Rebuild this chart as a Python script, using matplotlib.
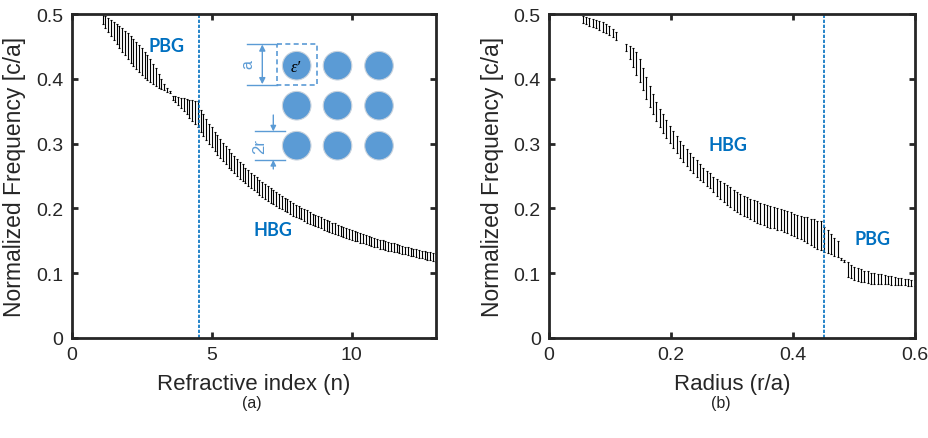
import matplotlib
matplotlib.use("Agg")
import matplotlib.pyplot as plt
from matplotlib.patches import Circle, Rectangle
import numpy as np

plt.rcParams['font.family'] = ['Liberation Sans', 'DejaVu Sans']

# ---- panel (a): band gap edges vs refractive index ----
n_vals = [1.1, 1.2, 1.3, 1.4, 1.5, 1.6, 1.7, 1.8, 1.9, 2.0,
          2.1, 2.2, 2.3, 2.4, 2.5, 2.6, 2.7, 2.8, 2.9, 3.0,
          3.1, 3.2, 3.3, 3.4, 3.5, 3.6, 3.7, 3.8, 3.9, 4.0,
          4.1, 4.2, 4.3, 4.4, 4.5, 4.6, 4.7, 4.8, 4.9, 5.0,
          5.1, 5.2, 5.3, 5.4, 5.5, 5.6, 5.7, 5.8, 5.9, 6.0,
          6.1, 6.2, 6.3, 6.4, 6.5, 6.6, 6.7, 6.8, 6.9, 7.0,
          7.1, 7.2, 7.3, 7.4, 7.5, 7.6, 7.7, 7.8, 7.9, 8.0,
          8.1, 8.2, 8.3, 8.4, 8.5, 8.6, 8.7, 8.8, 8.9, 9.0,
          9.1, 9.2, 9.3, 9.4, 9.5, 9.6, 9.7, 9.8, 9.9, 10.0,
          10.1, 10.2, 10.3, 10.4, 10.5, 10.6, 10.7, 10.8, 10.9, 11.0,
          11.1, 11.2, 11.3, 11.4, 11.5, 11.6, 11.7, 11.8, 11.9, 12.0,
          12.1, 12.2, 12.3, 12.4, 12.5, 12.6, 12.7, 12.8, 12.9, 13.0]
n_upper = [0.500, 0.497, 0.494, 0.491, 0.488, 0.485, 0.481, 0.478, 0.474, 0.470,
           0.466, 0.461, 0.457, 0.452, 0.447, 0.442, 0.436, 0.430, 0.423, 0.416,
           0.408, 0.400, 0.392, 0.386, 0.381, 0.374, 0.373, 0.372, 0.371, 0.370,
           0.369, 0.368, 0.367, 0.366, 0.365, 0.352, 0.345, 0.338, 0.331, 0.325,
           0.318, 0.313, 0.307, 0.301, 0.296, 0.291, 0.286, 0.281, 0.276, 0.272,
           0.268, 0.263, 0.259, 0.255, 0.252, 0.248, 0.244, 0.241, 0.238, 0.234,
           0.231, 0.228, 0.225, 0.222, 0.219, 0.216, 0.214, 0.211, 0.208, 0.206,
           0.204, 0.201, 0.199, 0.197, 0.194, 0.192, 0.190, 0.188, 0.186, 0.184,
           0.182, 0.180, 0.178, 0.177, 0.175, 0.173, 0.171, 0.170, 0.168, 0.167,
           0.165, 0.163, 0.162, 0.160, 0.159, 0.158, 0.156, 0.155, 0.153, 0.152,
           0.151, 0.150, 0.148, 0.147, 0.146, 0.145, 0.144, 0.142, 0.141, 0.140,
           0.139, 0.138, 0.137, 0.136, 0.135, 0.134, 0.133, 0.132, 0.131, 0.130]
n_lower = [0.484, 0.478, 0.472, 0.466, 0.460, 0.454, 0.448, 0.442, 0.436, 0.430,
           0.425, 0.420, 0.415, 0.410, 0.406, 0.402, 0.398, 0.395, 0.392, 0.389,
           0.386, 0.384, 0.382, 0.380, 0.378, 0.368, 0.364, 0.359, 0.355, 0.350,
           0.345, 0.340, 0.335, 0.330, 0.325, 0.318, 0.312, 0.306, 0.300, 0.294,
           0.288, 0.283, 0.278, 0.273, 0.268, 0.263, 0.259, 0.254, 0.250, 0.246,
           0.242, 0.239, 0.235, 0.231, 0.228, 0.225, 0.221, 0.218, 0.215, 0.212,
           0.209, 0.207, 0.204, 0.201, 0.199, 0.196, 0.194, 0.192, 0.189, 0.187,
           0.185, 0.183, 0.180, 0.178, 0.176, 0.175, 0.173, 0.171, 0.169, 0.167,
           0.165, 0.164, 0.162, 0.160, 0.159, 0.157, 0.156, 0.154, 0.153, 0.151,
           0.150, 0.149, 0.147, 0.146, 0.145, 0.143, 0.142, 0.141, 0.140, 0.138,
           0.137, 0.136, 0.135, 0.134, 0.133, 0.132, 0.131, 0.130, 0.129, 0.128,
           0.127, 0.126, 0.125, 0.124, 0.123, 0.122, 0.121, 0.120, 0.119, 0.118]
n_split = 4.55

# ---- panel (b): band gap edges vs radius ----
r_vals = [0.055, 0.0605, 0.066, 0.0715, 0.077, 0.0825, 0.088, 0.0935, 0.099, 0.1045, 0.11,
          0.1265, 0.132, 0.1375, 0.143, 0.1485, 0.154, 0.1595, 0.165, 0.1705, 0.176,
          0.1815, 0.187, 0.1925, 0.198, 0.2035, 0.209, 0.2145, 0.22, 0.2255, 0.231,
          0.2365, 0.242, 0.2475, 0.253, 0.2585, 0.264, 0.2695, 0.275, 0.2805, 0.286,
          0.2915, 0.297, 0.3025, 0.308, 0.3135, 0.319, 0.3245, 0.33, 0.3355, 0.341,
          0.3465, 0.352, 0.3575, 0.363, 0.3685, 0.374, 0.3795, 0.385, 0.3905, 0.396,
          0.4015, 0.407, 0.4125, 0.418, 0.4235, 0.429, 0.4345, 0.44, 0.4455, 0.451,
          0.4565, 0.462, 0.4675, 0.473, 0.4785, 0.484, 0.4895, 0.495, 0.5005, 0.506,
          0.5115, 0.517, 0.5225, 0.528, 0.5335, 0.539, 0.5445, 0.55, 0.5555, 0.561,
          0.5665, 0.572, 0.5775, 0.583, 0.5885, 0.594, 0.5995]
r_upper = [0.497, 0.496, 0.494, 0.493, 0.491, 0.489, 0.487, 0.484, 0.481, 0.477, 0.473,
           0.454, 0.451, 0.448, 0.441, 0.430, 0.416, 0.403, 0.389, 0.377, 0.364,
           0.354, 0.345, 0.337, 0.327, 0.319, 0.312, 0.304, 0.298, 0.292, 0.285,
           0.280, 0.274, 0.268, 0.263, 0.258, 0.254, 0.249, 0.245, 0.242, 0.239,
           0.236, 0.233, 0.229, 0.225, 0.222, 0.219, 0.217, 0.215, 0.213, 0.211,
           0.209, 0.207, 0.205, 0.204, 0.202, 0.200, 0.199, 0.197, 0.196, 0.194,
           0.192, 0.190, 0.189, 0.187, 0.186, 0.184, 0.183, 0.181, 0.180, 0.171,
           0.166, 0.161, 0.155, 0.150, 0.124, 0.121, 0.117, 0.113, 0.110, 0.108,
           0.106, 0.104, 0.103, 0.101, 0.100, 0.099, 0.098, 0.097, 0.096, 0.095,
           0.094, 0.093, 0.092, 0.091, 0.091, 0.090, 0.089]
r_lower = [0.486, 0.484, 0.482, 0.480, 0.478, 0.476, 0.473, 0.470, 0.467, 0.464, 0.460,
           0.443, 0.431, 0.418, 0.406, 0.395, 0.382, 0.369, 0.356, 0.345, 0.335,
           0.326, 0.317, 0.309, 0.301, 0.293, 0.286, 0.278, 0.272, 0.265, 0.259,
           0.254, 0.249, 0.244, 0.240, 0.235, 0.231, 0.225, 0.219, 0.214, 0.210,
           0.206, 0.202, 0.198, 0.194, 0.191, 0.188, 0.186, 0.183, 0.181, 0.178,
           0.176, 0.174, 0.172, 0.170, 0.169, 0.167, 0.166, 0.164, 0.162, 0.159,
           0.157, 0.155, 0.153, 0.150, 0.147, 0.144, 0.141, 0.138, 0.136, 0.133,
           0.131, 0.129, 0.127, 0.125, 0.121, 0.118, 0.094, 0.092, 0.090, 0.088,
           0.087, 0.086, 0.085, 0.084, 0.084, 0.083, 0.083, 0.083, 0.083, 0.082,
           0.082, 0.082, 0.082, 0.082, 0.081, 0.081, 0.081]
r_split = 0.45

blue = '#0070C0'
spine_col = '#262626'
bold_font = ['Lato', 'DejaVu Sans']
plain_font = ['Liberation Sans', 'DejaVu Sans']


def gap_bars(ax, x, upper, lower):
    up = np.array(upper)
    lo = np.array(lower)
    mid = (up + lo) / 2
    half = (up - lo) / 2
    ax.errorbar(x, mid, yerr=half, fmt='none', ecolor='black',
                elinewidth=0.8, capsize=1.0, capthick=0.8)


def style_axes(ax):
    for s in ax.spines.values():
        s.set_linewidth(2.0)
        s.set_color(spine_col)
    ax.tick_params(direction='in', length=4, width=2.0, colors=spine_col,
                   top=True, right=True, labelsize=14, pad=6)
    ax.set_ylim(0, 0.5)
    ax.set_yticks([0, 0.1, 0.2, 0.3, 0.4, 0.5])
    ax.set_yticklabels(['0', '0.1', '0.2', '0.3', '0.4', '0.5'])
    ax.set_ylabel('Normalized Frequency [c/a]', fontsize=16.5, color=spine_col, labelpad=7)


fig = plt.figure(figsize=(9.29, 4.39), dpi=100)
ax1 = fig.add_axes([0.0772, 0.2278, 0.3918, 0.738])
ax2 = fig.add_axes([0.5910, 0.2278, 0.3940, 0.738])

gap_bars(ax1, n_vals, n_upper, n_lower)
ax1.axvline(n_split, color=blue, ls=(0, (2.0, 1.0)), lw=1.2)
ax1.set_xlim(0, 13)
ax1.set_xticks([0, 5, 10])
ax1.set_xticklabels(['0', '5', '10'])
style_axes(ax1)
ax1.set_xlabel('Refractive index (n)', fontsize=16, color=spine_col, labelpad=7)
ax1.text(3.4, 0.452, 'PBG', color=blue, fontsize=13, fontweight='bold',
         family=bold_font, ha='center', va='center')
ax1.text(7.2, 0.168, 'HBG', color=blue, fontsize=13, fontweight='bold',
         family=bold_font, ha='center', va='center')

gap_bars(ax2, r_vals, r_upper, r_lower)
ax2.axvline(r_split, color=blue, ls=(0, (2.0, 1.0)), lw=1.2)
ax2.set_xlim(0, 0.6)
ax2.set_xticks([0, 0.2, 0.4, 0.6])
ax2.set_xticklabels(['0', '0.2', '0.4', '0.6'])
style_axes(ax2)
ax2.set_xlabel('Radius (r/a)', fontsize=16, color=spine_col, labelpad=7)
ax2.text(0.293, 0.299, 'HBG', color=blue, fontsize=13, fontweight='bold',
         family=bold_font, ha='center', va='center')
ax2.text(0.53, 0.153, 'PBG', color=blue, fontsize=13, fontweight='bold',
         family=bold_font, ha='center', va='center')

fig.text(252 / 929, 1 - 404 / 439, '(a)', fontsize=11.5, family=plain_font,
         ha='center', va='center', color='#222222')
fig.text(721 / 929, 1 - 404 / 439, '(b)', fontsize=11.5, family=plain_font,
         ha='center', va='center', color='#222222')

# ---- inset: square lattice schematic (pixel coordinates) ----
ov = fig.add_axes([0, 0, 1, 1], zorder=5)
ov.set_xlim(0, 929)
ov.set_ylim(439, 0)
ov.axis('off')
ov.patch.set_alpha(0)

dot = '#5B9BD5'
cols = [296.7, 337.5, 379.0]
rows = [66.7, 106.7, 146.7]
rad = 14.3
for cy in rows:
    for cx in cols:
        ov.add_patch(Circle((cx, cy), rad, facecolor=dot, edgecolor='#C9D3DD', lw=0.8))

ov.add_patch(Rectangle((276.7, 45.0), 40.6, 40.7, fill=False, edgecolor=dot,
                       lw=1.2, ls=(0, (3, 2))))
ov.text(cols[0] - 1, rows[0] + 1, "ε′", fontsize=12, style='italic',
        family=['Liberation Serif', 'DejaVu Serif'], ha='center', va='center', color='black')

# lattice constant marker
ov.plot([246.7, 276.7], [45.0, 45.0], color=dot, lw=1.0)
ov.plot([246.7, 276.7], [85.7, 85.7], color=dot, lw=1.0)
ov.annotate('', xy=(262.3, 45.5), xytext=(262.3, 85.2),
            arrowprops=dict(arrowstyle='<|-|>', color=dot, lw=1.0,
                            mutation_scale=9, shrinkA=0, shrinkB=0))
ov.text(248.0, 64.5, 'a', fontsize=11.5, color=dot, rotation=90,
        family=plain_font, ha='center', va='center')

# diameter marker
ov.plot([255.0, 285.0], [rows[2] - rad, rows[2] - rad], color=dot, lw=1.0)
ov.plot([255.0, 285.0], [rows[2] + rad, rows[2] + rad], color=dot, lw=1.0)
ov.annotate('', xy=(273.3, rows[2] - rad), xytext=(273.3, 116.0),
            arrowprops=dict(arrowstyle='-|>', color=dot, lw=1.0,
                            mutation_scale=8, shrinkA=0, shrinkB=0))
ov.annotate('', xy=(273.3, rows[2] + rad), xytext=(273.3, 170.0),
            arrowprops=dict(arrowstyle='-|>', color=dot, lw=1.0,
                            mutation_scale=8, shrinkA=0, shrinkB=0))
ov.text(260.0, rows[2], '2r', fontsize=12, color=dot, rotation=90,
        family=plain_font, ha='center', va='center')

fig.savefig('out.png', dpi=100)
